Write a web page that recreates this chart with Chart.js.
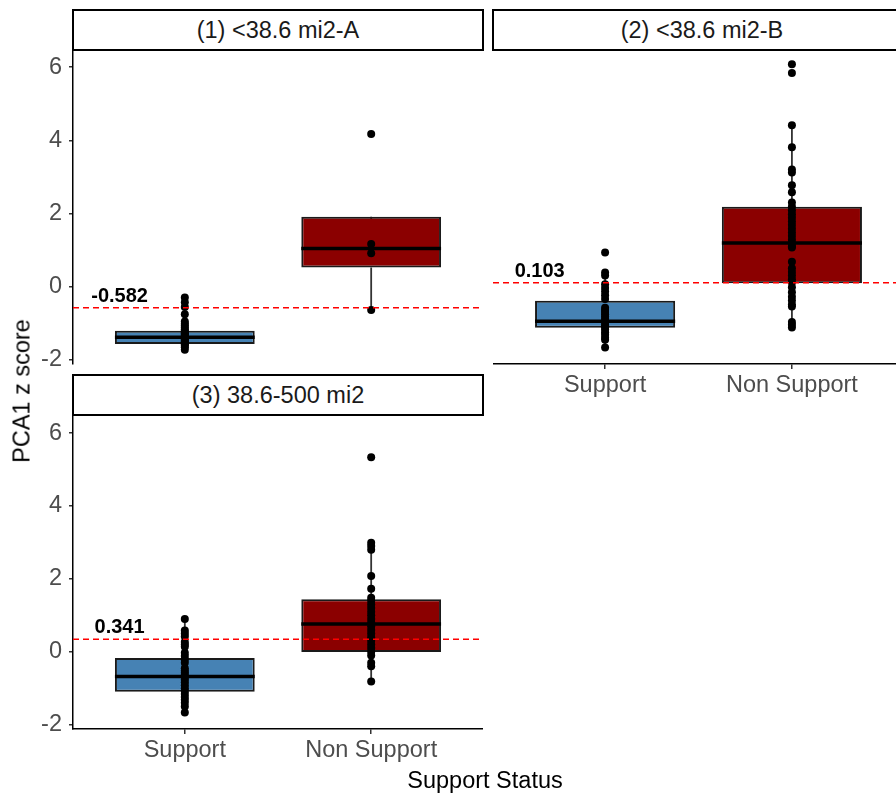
<!DOCTYPE html>
<html>
<head>
<meta charset="utf-8">
<script src="https://cdn.jsdelivr.net/npm/chart.js@4.4.1/dist/chart.umd.min.js"></script>
<style>
  html, body { margin: 0; padding: 0; background: #fff; }
  #fig { position: relative; width: 896px; height: 794px; overflow: hidden; background: #fff;
         font-family: "Liberation Sans", Arial, sans-serif; }
  #fig canvas { position: absolute; }
  .strip { position: absolute; box-sizing: border-box; border: 2px solid #000; background: #fff;
           color: #1a1a1a; font-size: 23.5px; text-align: center; line-height: 38px; z-index: 2; white-space: nowrap; }
  .title { position: absolute; color: #000; font-size: 23.5px; white-space: nowrap; z-index: 3; }
</style>
</head>
<body>
<div id="fig">
  <canvas id="panel1" width="483" height="330" style="left:0;top:50px"></canvas>
  <canvas id="panel2" width="411" height="364" style="left:493px;top:50px"></canvas>
  <canvas id="panel3" width="483" height="363" style="left:0;top:416px"></canvas>
  <div class="strip" id="strip1" style="left:72px;top:9px;width:412px;height:42px"></div>
  <div class="strip" id="strip2" style="left:492px;top:9px;width:420px;height:42px"></div>
  <div class="strip" id="strip3" style="left:72px;top:374px;width:412px;height:42px"></div>
  <div class="title" style="left:22px;top:391px;transform:translate(-50%,-50%) rotate(-90deg)">PCA1 z score</div>
  <div class="title" style="left:485px;top:780px;transform:translate(-50%,-50%)">Support Status</div>
</div>
<script>
// ---- data ----
const categories = ['Support', 'Non Support'];
const panelTitles = ['(1) <38.6 mi2-A', '(2) <38.6 mi2-B', '(3) 38.6-500 mi2'];
const yTicks = [-2, 0, 2, 4, 6];
const thresholds = [-0.582, 0.103, 0.341];

// individual PCA1 z scores
const p1Support = [-0.30, -0.43, -0.56, -0.76, -0.96, -1.02, -1.07, -1.12, -1.17, -1.21, -1.25, -1.28, -1.31,
                   -1.34, -1.37, -1.40, -1.43, -1.46, -1.49, -1.52, -1.55, -1.58, -1.62, -1.66, -1.73];
const p1NonSupport = [4.17, 1.16, 0.91, -0.64];
const p2Support = [0.93, 0.38, 0.30, 0.06, -0.04, -0.14, -0.24, -0.34, -0.58, -0.64, -0.70, -0.76, -0.82,
                   -0.88, -0.94, -1.00, -1.06, -1.12, -1.18, -1.25, -1.32, -1.40, -1.46, -1.67];
const p2NonSupport = [6.08, 5.84, 4.41, 3.81, 3.20, 3.12, 2.77, 2.58, 2.30, 2.18, 2.08, 1.98, 1.88, 1.78,
                      1.68, 1.58, 1.48, 1.38, 1.28, 1.18, 1.10, 1.07, 0.68, 0.50, 0.40, 0.30, 0.20, 0.11,
                      -0.02, -0.16, -0.28, -0.38, -0.49, -0.55, -0.97, -1.05, -1.12];
const p3Support = [0.90, 0.58, 0.50, 0.42, 0.27, 0.20, 0.14, -0.03, -0.12, -0.21, -0.30, -0.45, -0.52, -0.58,
                   -0.64, -0.70, -0.76, -0.84, -0.92, -1.00, -1.08, -1.16, -1.24, -1.32, -1.40, -1.50, -1.67];
const p3NonSupport = [5.34, 2.99, 2.90, 2.80, 2.08, 1.73, 1.48, 1.40, 1.30, 1.20, 1.10, 1.00, 0.90, 0.80,
                      0.70, 0.60, 0.50, 0.40, 0.30, 0.20, 0.10, 0.00, -0.10, -0.30, -0.40, -0.82];

// box statistics per panel, [Support, Non Support]
const q1 = [[-1.57, 0.52], [-1.13, 0.09], [-1.10, -0.01]];
const median = [[-1.39, 1.04], [-0.95, 1.19], [-0.68, 0.76]];
const q3 = [[-1.21, 1.91], [-0.39, 2.18], [-0.17, 1.44]];
const whiskerLow = [[-1.73, -0.64], [-1.67, -1.12], [-1.67, -0.82]];
const whiskerHigh = [[-0.76, 1.16], [0.38, 4.41], [0.90, 2.99]];

const panelPoints = [[p1Support, p1NonSupport], [p2Support, p2NonSupport], [p3Support, p3NonSupport]];

// ---- styling ----
const FONT = '"Liberation Sans", Arial, sans-serif';
const BOX_COLORS = ['#4682B4', '#8B0000'];
const BOX_WIDTH = 0.75;
const X_MIN = 0.4, X_MAX = 2.6;

// shared y range with 5% padding around all observations
const allValues = panelPoints.flat(2);
const dataMin = Math.min(...allValues), dataMax = Math.max(...allValues);
const pad = (dataMax - dataMin) * 0.05;
const Y_MIN = dataMin - pad, Y_MAX = dataMax + pad;

panelTitles.forEach((t, i) => { document.getElementById('strip' + (i + 1)).textContent = t; });

// value label drawn above each reference line
const thresholdLabel = {
  id: 'thresholdLabel',
  afterDatasetsDraw(chart, args, opts) {
    const { ctx, scales: { x, y } } = chart;
    ctx.save();
    ctx.font = 'bold 20px ' + FONT;
    ctx.fillStyle = '#000';
    ctx.textAlign = 'center';
    ctx.textBaseline = 'alphabetic';
    ctx.fillText(opts.text, x.getPixelForValue(opts.at), y.getPixelForValue(opts.value) - 6);
    ctx.restore();
  }
};

function buildDatasets(p) {
  const whiskers = [], medians = [], boxes = [], points = [];
  categories.forEach((c, k) => {
    const xc = k + 1;
    whiskers.push({ x: xc, y: q3[p][k] }, { x: xc, y: whiskerHigh[p][k] }, { x: xc, y: null },
                  { x: xc, y: q1[p][k] }, { x: xc, y: whiskerLow[p][k] }, { x: xc, y: null });
    medians.push({ x: xc - BOX_WIDTH / 2, y: median[p][k] }, { x: xc + BOX_WIDTH / 2, y: median[p][k] }, { x: xc, y: null });
    boxes.push({ x: xc, y: [q1[p][k], q3[p][k]] });
    panelPoints[p][k].forEach(v => points.push({ x: xc, y: v }));
  });
  return [
    { type: 'line', data: [{ x: X_MIN, y: thresholds[p] }, { x: X_MAX, y: thresholds[p] }],
      borderColor: '#ff0000', borderWidth: 1.5, borderDash: [6, 4], pointRadius: 0, order: 1 },
    { type: 'line', data: points, showLine: false, pointRadius: 4, pointBackgroundColor: '#000',
      pointBorderWidth: 0, order: 2 },
    { type: 'line', data: medians, borderColor: '#000', borderWidth: 3.5, borderCapStyle: 'butt',
      pointRadius: 0, spanGaps: false, order: 3 },
    { type: 'bar', data: boxes, backgroundColor: BOX_COLORS, borderColor: '#1a1a1a', borderWidth: 2,
      borderSkipped: false, barPercentage: BOX_WIDTH, categoryPercentage: 1, order: 4 },
    { type: 'line', data: whiskers, borderColor: '#333', borderWidth: 1.8, pointRadius: 0,
      spanGaps: false, order: 5 }
  ];
}

function makePanel(id, p, showX, showY, padBottom) {
  new Chart(document.getElementById(id), {
    type: 'bar',
    data: { datasets: buildDatasets(p) },
    plugins: [thresholdLabel],
    options: {
      responsive: false,
      animation: false,
      events: [],
      layout: { autoPadding: false, padding: { top: 0, right: 0, bottom: padBottom, left: 0 } },
      plugins: {
        legend: { display: false },
        tooltip: { enabled: false },
        thresholdLabel: { value: thresholds[p], text: thresholds[p].toFixed(3), at: 0.65 }
      },
      scales: {
        x: {
          type: 'linear', min: X_MIN, max: X_MAX, offset: false, display: showX,
          afterBuildTicks: s => { s.ticks = categories.map((c, k) => ({ value: k + 1 })); },
          ticks: { callback: (v, i) => categories[i], color: '#4d4d4d', font: { size: 23.5, family: FONT },
                   padding: 2, autoSkip: false, maxRotation: 0 },
          grid: { drawOnChartArea: false, drawTicks: true, tickLength: 5, color: '#333', lineWidth: 1.5, offset: false },
          border: { display: true, color: '#000', width: 1.5 },
          afterFit: s => { if (showX) { s.height = 50; } s.paddingLeft = 0; s.paddingRight = 0; }
        },
        y: {
          type: 'linear', min: Y_MIN, max: Y_MAX, display: showY, beginAtZero: false,
          afterBuildTicks: s => { s.ticks = yTicks.map(v => ({ value: v })); },
          ticks: { color: '#4d4d4d', font: { size: 23.5, family: FONT }, padding: 7 },
          grid: { drawOnChartArea: false, drawTicks: true, tickLength: 4, color: '#333', lineWidth: 1.5 },
          border: { display: true, color: '#000', width: 1.5 },
          afterFit: s => { if (showY) { s.width = 73; } s.paddingTop = 0; s.paddingBottom = 0; }
        }
      }
    }
  });
}

makePanel('panel1', 0, false, true, 16);
makePanel('panel2', 1, true, false, 0);
makePanel('panel3', 2, true, true, 0);
</script>
</body>
</html>
